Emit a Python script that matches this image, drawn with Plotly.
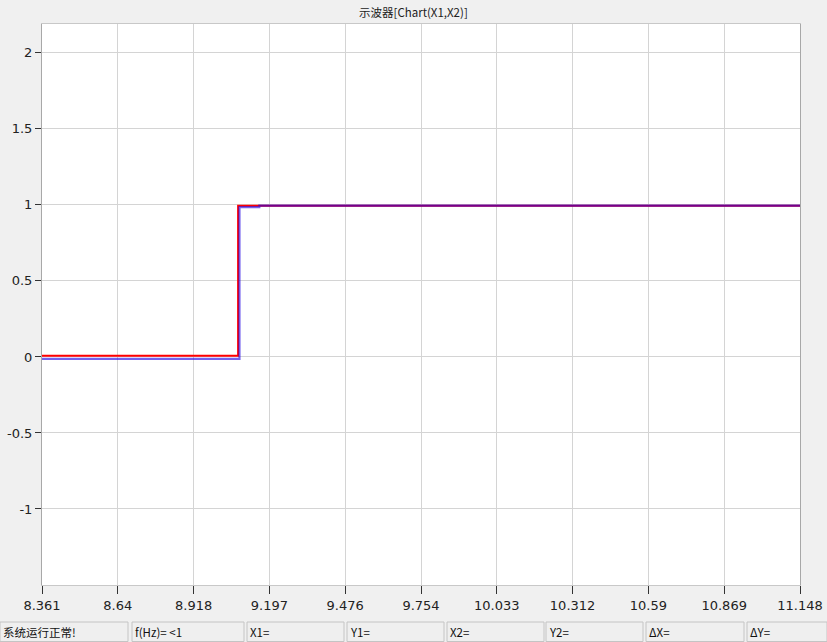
import plotly.graph_objects as go

# ---- data ----
x_tick_labels = ["8.361", "8.64", "8.918", "9.197", "9.476", "9.754",
                 "10.033", "10.312", "10.59", "10.869", "11.148"]
y_tick_vals = [-1, -0.5, 0, 0.5, 1, 1.5, 2]
y_tick_text = ["-1", "-0.5", "0", "0.5", "1", "1.5", "2"]

red_x = [8.361, 9.082, 9.082, 11.148]
red_y = [0.008, 0.008, 0.995, 0.995]

blue_x = [8.361, 9.087, 9.087, 9.16, 9.16, 11.148]
blue_y = [-0.012, -0.012, 0.985, 0.985, 0.995, 0.995]

status_texts = ["系统运行正常!", "f(Hz)= <1", "X1=", "Y1=", "X2=", "Y2=", "ΔX=", "ΔY="]
status_boxes_px = [(0, 128), (132, 244), (247, 344), (347, 444),
                   (447, 544), (546, 643), (646, 744), (747, 827)]

title_text = "示波器[Chart(X1,X2)]"

# ---- layout geometry (pixels) ----
W, H = 827, 642
L, R, T, B = 42, 800, 24, 585
pw, ph = R - L, B - T

def px_x(px):
    return (px - L) / pw

def px_y(py):
    return (B - py) / ph

x0, x1 = 8.361, 11.148
x_tick_vals = [x0 + i * (x1 - x0) / 10 for i in range(11)]

fig = go.Figure()
fig.add_trace(go.Scatter(x=red_x, y=red_y, mode="lines",
                         line=dict(color="#ff0000", width=2), hoverinfo="skip"))
fig.add_trace(go.Scatter(x=blue_x, y=blue_y, mode="lines",
                         line=dict(color="rgba(30,0,225,0.62)", width=2.2), hoverinfo="skip"))

font_fam = "Tahoma, 'DejaVu Sans', 'Noto Sans CJK SC', sans-serif"

fig.update_layout(
    width=W, height=H,
    margin=dict(l=L, r=W - R, t=T, b=H - B, autoexpand=False),
    paper_bgcolor="#f0f0f0",
    plot_bgcolor="#ffffff",
    showlegend=False,
    font=dict(family=font_fam, size=13, color="#222222"),
)
fig.update_xaxes(
    range=[x0, x1],
    tickvals=x_tick_vals, ticktext=x_tick_labels,
    showgrid=True, gridcolor="#d4d4d4", gridwidth=1,
    ticks="outside", ticklen=8, tickcolor="#333333", tickwidth=1,
    showline=True, linecolor="#c8c8c8", mirror=True,
    zeroline=False,
    tickfont=dict(family="'DejaVu Sans', sans-serif", size=13, color="#222222"),
)
fig.update_yaxes(
    range=[-1.5, 2.19],
    tickvals=y_tick_vals, ticktext=y_tick_text,
    showgrid=True, gridcolor="#d4d4d4", gridwidth=1,
    ticks="outside", ticklen=6, tickcolor="#333333", tickwidth=1,
    showline=True, linecolor="#a8a8a8", linewidth=1, mirror=True,
    zeroline=False,
    tickfont=dict(family="'DejaVu Sans', sans-serif", size=13, color="#222222"),
)

shapes = []
annotations = []
for (a, b), txt in zip(status_boxes_px, status_texts):
    shapes.append(dict(type="rect", xref="paper", yref="paper",
                       x0=px_x(a), x1=px_x(b), y0=px_y(641.5), y1=px_y(622),
                       line=dict(color="#c4c4c4", width=1), fillcolor="#efefef",
                       layer="above"))
    annotations.append(dict(text=txt, xref="paper", yref="paper",
                            x=px_x(a + 1), y=px_y(632), xanchor="left", yanchor="middle",
                            showarrow=False,
                            font=dict(family="'Noto Sans CJK SC', 'DejaVu Sans', sans-serif",
                                      size=11.5, color="#111111")))

annotations.append(dict(text=title_text, xref="paper", yref="paper",
                        x=px_x(413), y=px_y(12), xanchor="center", yanchor="middle",
                        showarrow=False,
                        font=dict(family="'Noto Sans CJK SC', sans-serif", size=11.5,
                                  color="#222222")))

fig.update_layout(shapes=shapes, annotations=annotations)

fig.write_html("out.html", config={"displayModeBar": False})

# remove default body margin so the figure sits at the page's top-left corner
with open("out.html", "r", encoding="utf-8") as f:
    html = f.read()
html = html.replace("<body>", "<body style=\"margin:0;padding:0;overflow:hidden;\">", 1)
with open("out.html", "w", encoding="utf-8") as f:
    f.write(html)
